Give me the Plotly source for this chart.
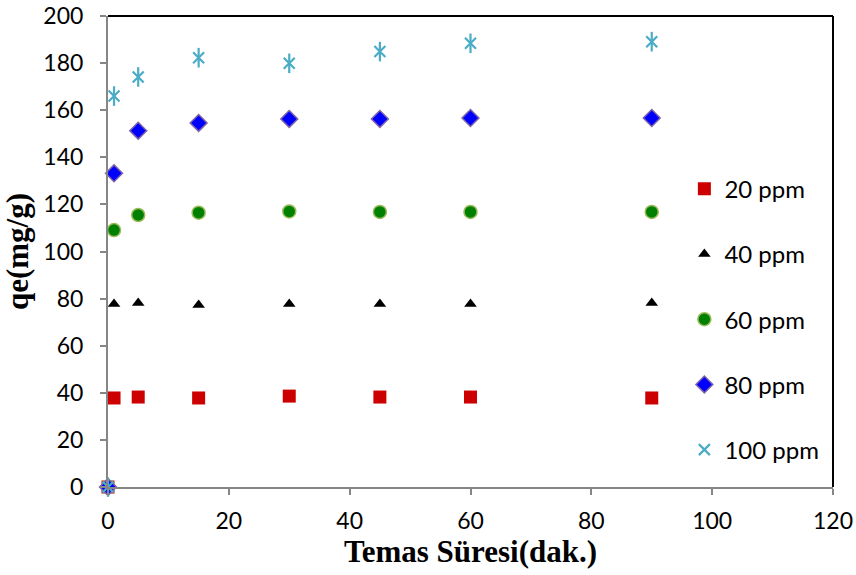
import plotly.graph_objects as go

# Contact time (min)
time_min = [0, 1, 5, 15, 30, 45, 60, 90]

# Adsorption capacity qe (mg/g) for each initial concentration
qe_20 = [0, 37.8, 38.2, 37.8, 38.6, 38.2, 38.2, 37.8]
qe_40 = [0, 77.7, 78.1, 77.3, 77.7, 77.7, 77.7, 78.1]
qe_60 = [0, 109.1, 115.5, 116.5, 117.0, 116.8, 116.8, 116.8]
qe_80 = [0, 133.2, 151.3, 154.6, 156.3, 156.3, 156.7, 156.7]
qe_100 = [0, 166.0, 174.1, 182.3, 179.9, 184.9, 188.4, 189.1]

series_names = ["20 ppm", "40 ppm", "60 ppm", "80 ppm", "100 ppm"]
x_ticks = [0, 20, 40, 60, 80, 100, 120]
y_ticks = [0, 20, 40, 60, 80, 100, 120, 140, 160, 180, 200]

styles = [
    dict(symbol="square", size=13, color="#CC0000", line=dict(width=0)),
    dict(symbol="triangle-up", size=11, color="#000000", line=dict(width=0)),
    dict(symbol="circle", size=13, color="#008000", line=dict(width=1.5, color="#9BBB59")),
    dict(symbol="diamond", size=13, color="#0000FF", line=dict(width=1.5, color="#7F63A8")),
    dict(symbol="x-thin-open", size=11, color="#4BACC6", line=dict(width=2.2, color="#4BACC6")),
]

fig = go.Figure()
for name, vals, st in zip(series_names, [qe_20, qe_40, qe_60, qe_80, qe_100], styles):
    fig.add_trace(go.Scatter(
        x=time_min, y=vals, mode="markers", name=name, legendgroup=name,
        marker=st, cliponaxis=False,
    ))

# Vertical stroke completing the star markers of the 100 ppm series
fig.add_trace(go.Scatter(
    x=time_min, y=qe_100, mode="markers", name="100 ppm", legendgroup="100 ppm",
    showlegend=False, cliponaxis=False, hoverinfo="skip",
    marker=dict(symbol="line-ns-open", size=14, color="#4BACC6",
                line=dict(width=2.2, color="#4BACC6")),
))

tick_font = dict(family="Lato, Carlito, Open Sans, sans-serif", size=23, color="#000000")
title_font = dict(family="Liberation Serif, Times New Roman, serif", size=31, color="#000000")

fig.update_xaxes(
    range=[0, 120], tickvals=x_ticks, showgrid=False, zeroline=False, automargin=False,
    showline=True, linecolor="#868686", linewidth=2,
    ticks="outside", ticklen=6, tickwidth=2, tickcolor="#868686",
    tickfont=tick_font, ticklabelstandoff=6,
    title=dict(text="<b>Temas Süresi(dak.)</b>", font=title_font, standoff=8),
)
fig.update_yaxes(
    range=[0, 200], tickvals=y_ticks, showgrid=False, zeroline=False, automargin=False,
    showline=True, linecolor="#868686", linewidth=2,
    ticks="outside", ticklen=6, tickwidth=2, tickcolor="#868686",
    tickfont=tick_font, ticklabelstandoff=12,
    title=dict(text="<b>qe(mg/g)</b>", font=title_font, standoff=10),
)

# Black frame on top and right of the plot area
fig.add_shape(type="line", xref="paper", yref="paper", x0=0, x1=1, y0=1, y1=1,
              line=dict(color="#000000", width=2))
fig.add_shape(type="line", xref="paper", yref="paper", x0=1, x1=1, y0=0, y1=1,
              line=dict(color="#000000", width=2))

fig.update_layout(
    width=856, height=575,
    margin=dict(l=108, r=23, t=16, b=88),
    paper_bgcolor="white", plot_bgcolor="white",
    showlegend=True,
    legend=dict(
        x=0.795, y=0.68, xanchor="left", yanchor="top",
        font=dict(family="Lato, Carlito, Open Sans, sans-serif", size=24, color="#000000"),
        tracegroupgap=31, bgcolor="rgba(0,0,0,0)", itemwidth=30,
    ),
)

fig.write_html("out.html")
